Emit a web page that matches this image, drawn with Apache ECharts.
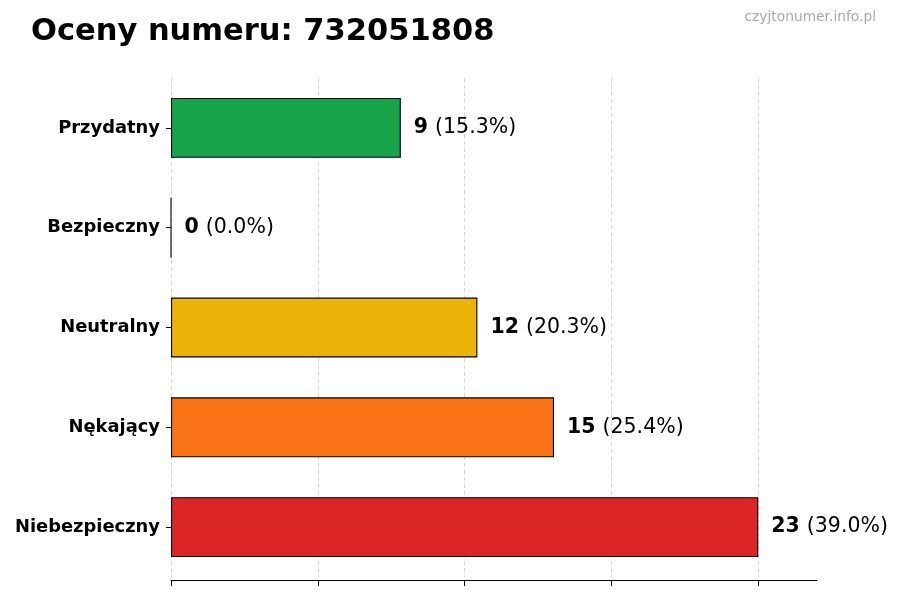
<!DOCTYPE html>
<html><head><meta charset="utf-8">
<script src="https://cdn.jsdelivr.net/npm/echarts@6/dist/echarts.min.js"></script>
<style>html,body{margin:0;padding:0;background:#fff}#c{width:900px;height:600px}</style>
</head><body><div id="c"></div>
<script>
const categories = ['Przydatny', 'Bezpieczny', 'Neutralny', 'Nękający', 'Niebezpieczny'];
const values = [9, 0, 12, 15, 23];
const percents = ['15.3%', '0.0%', '20.3%', '25.4%', '39.0%'];
const colors = ['#16a34a', '#16a34a', '#eab308', '#f97316', '#dc2626'];
const xTicks = [0, 5.75, 11.5, 17.25, 23];
const xMax = 25.3;
const titleText = 'Oceny numeru: 732051808';
const watermark = 'czyjtonumer.info.pl';

const chart = echarts.init(document.getElementById('c'));
const font = 'DejaVu Sans';
chart.setOption({
  animation: false,
  textStyle: { fontFamily: font },
  title: [
    { text: titleText, left: 26, top: 12, textStyle: { fontFamily: font, fontSize: 30.5, fontWeight: 'bold', color: '#000' } },
    { text: watermark, right: 19, top: 5, textStyle: { fontFamily: font, fontSize: 13.8, fontWeight: 'normal', color: '#aaa' } }
  ],
  grid: { left: 171, right: 83, top: 78, bottom: 23, containLabel: false },
  xAxis: {
    type: 'value', min: 0, max: xMax, interval: 5.75, offset: 3,
    axisLine: { show: true, lineStyle: { color: '#000', width: 1 } },
    axisTick: { show: true, length: 6, lineStyle: { color: '#000' }, customValues: xTicks },
    axisLabel: { show: false },
    splitLine: { show: true, lineStyle: { color: '#ccc', type: [4, 3], width: 0.8 } }
  },
  yAxis: {
    type: 'category', data: categories, inverse: true,
    axisLine: { show: false },
    axisTick: { show: true, alignWithLabel: true, length: 5, lineStyle: { color: '#000' } },
    axisLabel: { margin: 11, fontFamily: font, fontSize: 17.9, fontWeight: 'bold', color: '#000' }
  },
  series: [{
    type: 'bar',
    barWidth: '60%',
    data: values.map((v, i) => ({ value: v, itemStyle: { color: colors[i] } })),
    itemStyle: { borderColor: '#000', borderWidth: 1.1 },
    label: {
      show: true, position: 'right', distance: 13,
      formatter: p => '{b|' + values[p.dataIndex] + '}{n|(' + percents[p.dataIndex] + ')}',
      rich: {
        b: { fontFamily: font, fontSize: 20.5, fontWeight: 'bold', color: '#000', padding: [0, 7, 0, 0] },
        n: { fontFamily: font, fontSize: 20.5, color: '#000' }
      }
    }
  }]
});
</script></body></html>
